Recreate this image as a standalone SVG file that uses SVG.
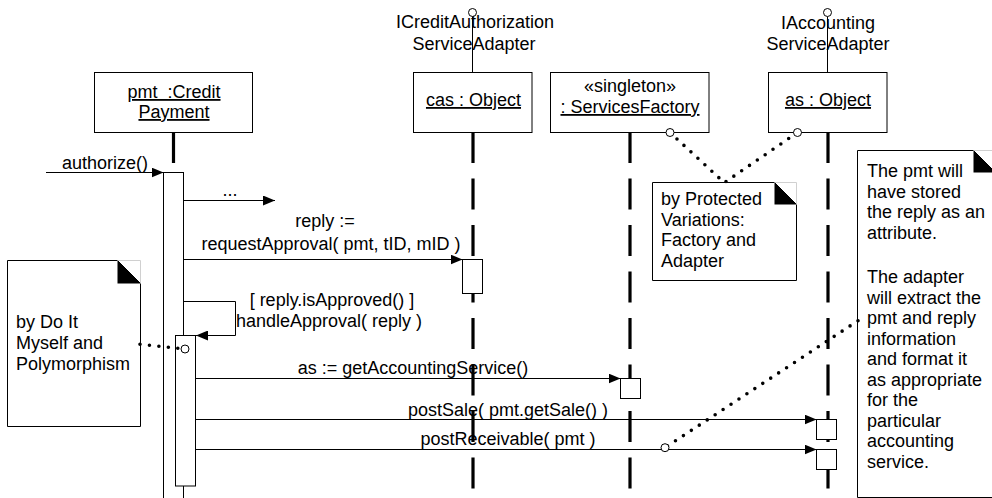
<svg xmlns="http://www.w3.org/2000/svg" width="992" height="498" viewBox="0 0 992 498">
<style>
.t{font-family:"Liberation Sans",Arial,sans-serif;font-size:18px;fill:#000}
.c{text-anchor:middle}
.u{text-decoration:underline}
.box{fill:#fff;stroke:#000;stroke-width:1}
.life{stroke:#000;stroke-width:3.2;stroke-dasharray:31 15.5;fill:none}
.msg{stroke:#000;stroke-width:1;fill:none;marker-end:url(#arr)}
.plain{stroke:#000;stroke-width:1;fill:none}
.dot{stroke:#000;stroke-width:3.6;stroke-linecap:round;stroke-dasharray:0 9.5;fill:none}
.ring{fill:#fff;stroke:#000;stroke-width:1}
.note{fill:#fff;stroke:#000;stroke-width:1}
.ear{fill:#000}
.faint{fill:none;stroke:#d0d0d0;stroke-width:1}
</style>
<defs>
<marker id="arr" markerWidth="12" markerHeight="10" refX="12" refY="5" orient="auto" markerUnits="userSpaceOnUse">
<path d="M0,0 L12,5 L0,10 Z" fill="#000"/>
</marker>
</defs>

<!-- interface lollipops -->
<g id="iface-cas">
<line class="plain" x1="472.5" y1="16.5" x2="472.5" y2="72"/>
<circle class="ring" cx="472.5" cy="12.5" r="4"/>
<text class="t c" x="475" y="28">ICreditAuthorization</text>
<text class="t c" x="474" y="50">ServiceAdapter</text>
</g>
<g id="iface-as">
<line class="plain" x1="827.5" y1="16.5" x2="827.5" y2="72"/>
<circle class="ring" cx="827.5" cy="12.5" r="4"/>
<text class="t c" x="828" y="29">IAccounting</text>
<text class="t c" x="828" y="50">ServiceAdapter</text>
</g>

<!-- message labels -->
<g id="labels">
<text class="t c" x="105" y="169">authorize()</text>
<text class="t c" x="230" y="196">...</text>
<text class="t c" x="325" y="227">reply :=</text>
<text class="t c" x="331" y="250">requestApproval( pmt, tID, mID )</text>
<text class="t c" x="332" y="306">[ reply.isApproved() ]</text>
<text class="t c" x="329" y="327">handleApproval( reply )</text>
<text class="t c" x="413" y="374">as := getAccountingService()</text>
<text class="t c" x="508" y="416">postSale( pmt.getSale() )</text>
<text class="t c" x="508" y="445">postReceivable( pmt )</text>
</g>

<!-- lifelines -->
<g id="lifelines">
<line class="life" x1="173.5" y1="132" x2="173.5" y2="172"/>
<line class="life" x1="473" y1="132" x2="473" y2="492"/>
<line class="life" x1="630" y1="132" x2="630" y2="492"/>
<line class="life" x1="828" y1="132" x2="828" y2="492"/>
</g>

<!-- connectors -->
<g id="connectors">
<line class="msg" x1="46" y1="172.5" x2="163.5" y2="172.5"/>
<line class="msg" x1="184" y1="200.5" x2="275" y2="200.5"/>
<line class="msg" x1="183.5" y1="259.5" x2="462.5" y2="259.5"/>
<path class="msg" d="M183.5,301.5 H235.5 V335.5 H196"/>
<line class="msg" x1="195.5" y1="378.5" x2="620.5" y2="378.5"/>
<line class="msg" x1="195.5" y1="419.5" x2="816.5" y2="419.5"/>
<line class="msg" x1="195.5" y1="449.5" x2="816.5" y2="449.5"/>
</g>

<!-- objects -->
<g id="pmt">
<rect class="box" x="94.5" y="72.5" width="158" height="60"/>
<text class="t c u" x="174" y="98" xml:space="preserve">pmt  :Credit</text>
<text class="t c u" x="174" y="118">Payment</text>
<rect class="box" x="163.5" y="172.5" width="20" height="340"/>
<rect class="box" x="175.5" y="335.5" width="20" height="150.5"/>
</g>
<g id="cas">
<rect class="box" x="413.5" y="72.5" width="118.5" height="60"/>
<text class="t c u" x="473.5" y="106">cas : Object</text>
<rect class="box" x="462.5" y="259.5" width="20" height="34"/>
</g>
<g id="factory">
<rect class="box" x="550.5" y="72.5" width="158.5" height="60"/>
<text class="t c" x="630" y="92">«singleton»</text>
<text class="t c u" x="630" y="113">: ServicesFactory</text>
<rect class="box" x="620.5" y="378.5" width="20" height="20"/>
</g>
<g id="as">
<rect class="box" x="768.5" y="72.5" width="118.5" height="60"/>
<text class="t c u" x="828" y="106">as : Object</text>
<rect class="box" x="816.5" y="419.5" width="20" height="20"/>
<rect class="box" x="816.5" y="449.5" width="20" height="20"/>
</g>

<!-- notes -->
<g id="note-doit">
<path class="note" d="M7.5,260.5 H117.5 L140.5,283.5 V426.5 H7.5 Z"/>
<path class="faint" d="M117.5,260.5 H140.5 V283.5"/>
<path class="ear" d="M117.5,260.5 L140.5,283.5 H117.5 Z"/>
<text class="t" x="16" y="328">by Do It</text>
<text class="t" x="16" y="349">Myself and</text>
<text class="t" x="16" y="370">Polymorphism</text>
</g>
<g id="note-pv">
<path class="note" d="M652.5,182.5 H774.5 L796.5,204.5 V280.5 H652.5 Z"/>
<path class="faint" d="M774.5,182.5 H796.5 V204.5"/>
<path class="ear" d="M774.5,182.5 L796.5,204.5 H774.5 Z"/>
<text class="t" x="661" y="205">by Protected</text>
<text class="t" x="661" y="225.5">Variations:</text>
<text class="t" x="661" y="246">Factory and</text>
<text class="t" x="661" y="266.5">Adapter</text>
</g>
<g id="note-adapter">
<path class="note" d="M857.5,150.5 H973.5 L995.5,172.5 V497.5 H857.5 Z"/>
<path class="faint" d="M973.5,150.5 H995.5 V172.5"/>
<path class="ear" d="M973.5,150.5 L995.5,172.5 H973.5 Z"/>
<text class="t" x="867" y="177">The pmt will</text>
<text class="t" x="867" y="197.5">have stored</text>
<text class="t" x="867" y="218">the reply as an</text>
<text class="t" x="867" y="239">attribute.</text>
<text class="t" x="867" y="283">The adapter</text>
<text class="t" x="867" y="303.5">will extract the</text>
<text class="t" x="867" y="324">pmt and reply</text>
<text class="t" x="867" y="344.5">information</text>
<text class="t" x="867" y="365">and format it</text>
<text class="t" x="867" y="385.5">as appropriate</text>
<text class="t" x="867" y="406">for the</text>
<text class="t" x="867" y="426.5">particular</text>
<text class="t" x="867" y="447">accounting</text>
<text class="t" x="867" y="468">service.</text>
</g>

<!-- note anchors (dotted links) -->
<g id="note-links">
<path class="dot" d="M670,132.5 L724.3,182.7 L797.5,132.5"/>
<path class="dot" d="M858,320.7 L665,447.7"/>
<path class="dot" d="M140,344.3 L185,349"/>
<circle class="ring" cx="670" cy="132.5" r="4"/>
<circle class="ring" cx="797.5" cy="132.5" r="4"/>
<circle class="ring" cx="665" cy="447.7" r="4"/>
<circle class="ring" cx="185" cy="349" r="4"/>
</g>
</svg>
